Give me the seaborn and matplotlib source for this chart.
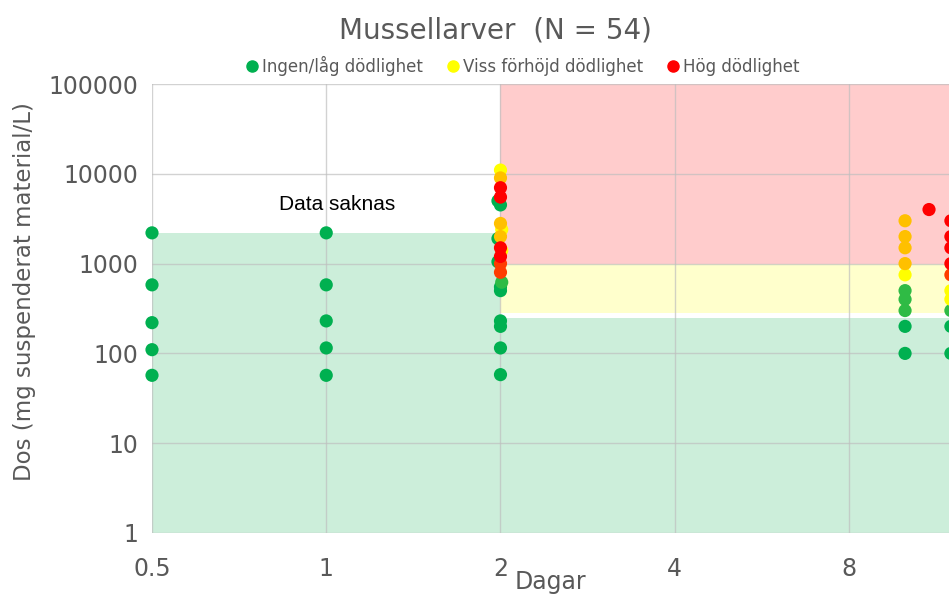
import pandas as pd
import seaborn as sns
import matplotlib.pyplot as plt
from matplotlib.lines import Line2D

# Dagar, dos (mg/L) och dödlighetsklass per observation (N = 54)
dagar = [0.5, 0.5, 0.5, 0.5, 0.5,
         1, 1, 1, 1, 1,
         2.0, 2.0, 2.0, 2.0, 1.98, 2.0, 2.0, 2.01, 2.0, 1.98, 2.0, 2.01,
         2.0, 1.98, 2.0, 2.0, 2.01, 2.0, 2.0, 2.0, 2.0, 2.0, 2.0,
         10, 10, 10, 10, 10, 10, 10, 10, 10, 10,
         11,
         12, 12, 12, 12, 12, 12, 12, 12, 12, 12]
dos = [2200, 580, 220, 110, 57,
       2200, 580, 230, 115, 57,
       11000, 9000, 7000, 5500, 5000, 4500, 2800, 2400, 2000, 1900, 1500, 1400,
       1200, 1050, 1000, 800, 620, 550, 500, 230, 200, 115, 58,
       3000, 2000, 1500, 1000, 750, 500, 400, 300, 200, 100,
       4000,
       3000, 2000, 1500, 1000, 750, 500, 400, 300, 200, 100]
klass = ["gron"] * 5 + ["gron"] * 5 + [
    "gul", "guld", "rod", "rod", "gron", "gron", "guld", "gul", "guld", "gron", "rod", "gul",
    "rod", "gron", "orange", "orange", "ljusgron", "gron", "gron", "gron", "gron", "gron", "gron",
    "guld", "guld", "guld", "guld", "gul", "ljusgron", "ljusgron", "ljusgron", "gron", "gron",
    "rod",
    "rod", "rod", "rod", "rod", "orange", "gul", "gul", "ljusgron", "gron", "gron"]

legend_labels = ["Ingen/låg dödlighet", "Viss förhöjd dödlighet", "Hög dödlighet"]

# gränser för de färgade zonerna
x_min, x_max = 0.5, 11.91
grans_saknas = 2200
grans_lag = 250
grans_viss = 280
grans_hog = 1000

df = pd.DataFrame({"dagar": dagar, "dos": dos, "klass": klass})
ordning = ["gron", "ljusgron", "gul", "guld", "orange", "rod"]
df["ord"] = df["klass"].map({k: i for i, k in enumerate(ordning)})
df = df.sort_values("ord", kind="stable")

palett = {"gron": "#00B050", "ljusgron": "#2FBB45", "gul": "#FFFF00",
          "guld": "#FFC000", "orange": "#FF3C00", "rod": "#FF0000"}

sns.set_style("white")
plt.rcParams["font.family"] = ["DejaVu Sans"]

fig, ax = plt.subplots(figsize=(9.49, 5.97), dpi=100)
fig.subplots_adjust(left=152 / 949, right=1.0, top=1 - 84 / 597, bottom=1 - 533 / 597)

# bakgrundszoner
ax.fill_between([x_min, 2], 1, grans_saknas, color="#CCEEDA", lw=0, zorder=0.1)
ax.fill_between([2, x_max], 1, grans_lag, color="#CCEEDA", lw=0, zorder=0.1)
ax.fill_between([2, x_max], grans_viss, grans_hog, color="#FFFFCC", lw=0, zorder=0.1)
ax.fill_between([2, x_max], grans_hog, 100000, color="#FFCCCC", lw=0, zorder=0.1)

sns.scatterplot(data=df, x="dagar", y="dos", hue="klass", palette=palett,
                s=90, linewidth=0, legend=False, ax=ax, clip_on=False, zorder=3)

ax.set_xscale("log", base=2)
ax.set_yscale("log")
ax.set_xlim(x_min, x_max)
ax.set_ylim(1, 100000)
ax.set_xticks([0.5, 1, 2, 4, 8])
ax.set_xticklabels(["0.5", "1", "2", "4", "8"])
ax.set_yticks([1, 10, 100, 1000, 10000, 100000])
ax.set_yticklabels(["1", "10", "100", "1000", "10000", "100000"])
ax.minorticks_off()
ax.tick_params(axis="x", length=0, pad=17, labelsize=17, labelcolor="#595959")
ax.tick_params(axis="y", length=0, pad=10, labelsize=17, labelcolor="#595959")

ax.set_axisbelow(False)
ax.grid(True, color="#BFBFBF", alpha=0.7, lw=1, zorder=0.5)
for s in ax.spines.values():
    s.set_visible(False)

ax.set_xlabel("Dagar", fontsize=17, color="#595959")
ax.xaxis.set_label_coords(0.5, -0.082)
ax.set_ylabel("Dos (mg suspenderat material/L)", fontsize=16.5, color="#595959")
ax.yaxis.set_label_coords(-0.1455, 0.537)

ax.text(1.044, 4600, "Data saknas", fontsize=15, family="Liberation Sans",
        ha="center", va="center", color="black")

fig.text(495 / 949, 1 - 30 / 597, "Mussellarver  (N = 54)", fontsize=20,
         color="#595959", ha="center", va="center")

handles = [Line2D([], [], marker="o", ls="", color=c, markersize=8)
           for c in ["#00B050", "#FFFF00", "#FF0000"]]
fig.legend(handles, legend_labels, loc="center", bbox_to_anchor=(522 / 949, 1 - 66 / 597),
           ncol=3, frameon=False, fontsize=12, handletextpad=0.1, columnspacing=1.3,
           labelcolor="#595959", handlelength=1.0)

fig.savefig("out.png", dpi=100)
